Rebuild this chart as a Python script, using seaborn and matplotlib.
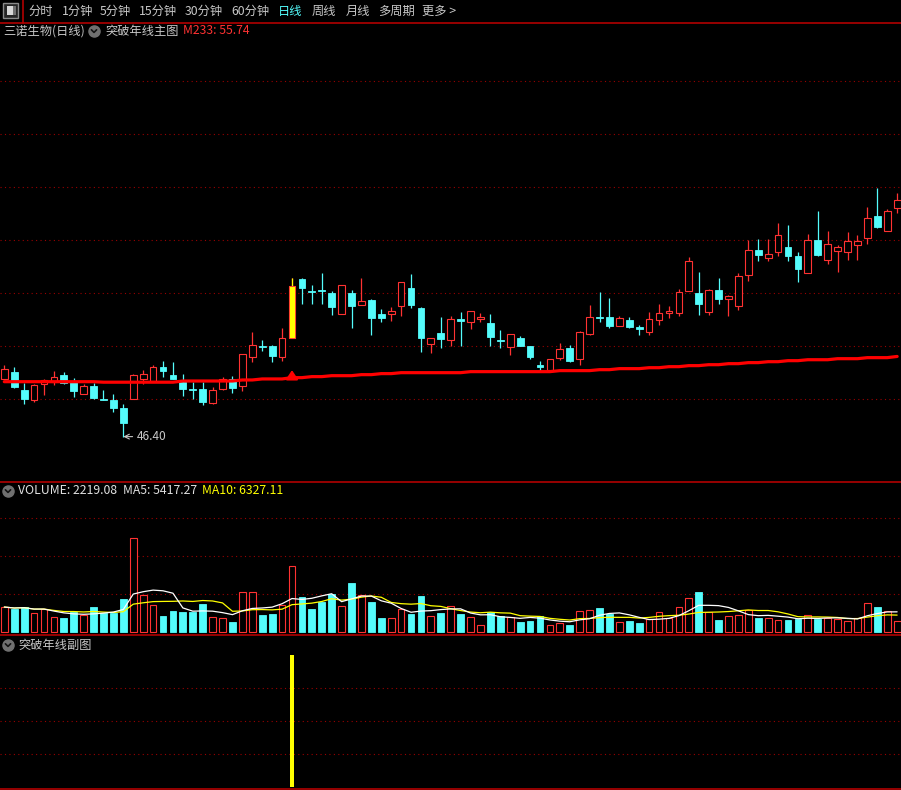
import numpy as np
import pandas as pd
import matplotlib
matplotlib.use("Agg")
import matplotlib.pyplot as plt
import seaborn as sns
from matplotlib.lines import Line2D
from matplotlib.patches import Rectangle

# 三诺生物 daily candles
opens = [53.15, 53.93, 51.84, 50.67, 52.50, 52.80, 53.58, 52.80, 51.40, 52.30,
         50.79, 50.67, 49.74, 50.75, 53.15, 52.92, 54.51, 53.55, 52.80, 51.92,
         51.92, 50.36, 51.99, 53.12, 52.34, 55.71, 56.96, 56.96, 55.71, 57.93,
         64.77, 63.37, 63.52, 63.14, 60.65, 63.14, 61.70, 62.32, 60.69, 60.65,
         61.59, 63.72, 61.39, 57.16, 58.48, 57.69, 60.07, 59.79, 60.07, 59.64,
         57.69, 56.88, 57.89, 56.93, 54.75, 54.20, 55.60, 56.73, 55.48, 58.39,
         60.37, 60.34, 59.26, 59.99, 59.14, 58.56, 60.03, 60.77, 60.86, 63.40,
         63.14, 60.96, 63.49, 62.40, 61.66, 65.27, 68.15, 67.25, 67.95, 68.49,
         67.45, 65.50, 69.31, 67.01, 68.06, 67.95, 68.76, 69.58, 72.11, 70.39,
         73.07]
closes = [54.28, 52.18, 50.79, 52.42, 52.97, 53.31, 52.69, 51.72, 52.30, 50.94,
          50.71, 49.77, 47.99, 53.55, 53.66, 54.51, 54.05, 53.12, 51.99, 51.80,
          50.47, 51.80, 53.12, 52.07, 55.99, 57.04, 56.88, 55.83, 57.86, 63.95,
          63.75, 63.25, 63.40, 61.54, 64.03, 61.66, 62.17, 60.26, 60.26, 61.00,
          64.38, 61.77, 57.93, 57.86, 57.81, 60.07, 59.91, 61.00, 60.31, 58.04,
          57.58, 58.32, 56.96, 55.68, 54.55, 55.45, 56.61, 55.21, 58.59, 60.31,
          60.22, 59.29, 60.19, 59.21, 58.98, 60.07, 60.77, 61.00, 63.22, 66.86,
          61.89, 63.49, 62.47, 62.79, 65.08, 68.15, 67.60, 67.68, 69.86, 67.48,
          65.97, 69.28, 67.56, 68.81, 68.46, 69.16, 69.19, 71.84, 70.86, 72.65,
          73.93]
highs = [54.75, 54.51, 52.65, 52.53, 53.08, 54.05, 53.93, 53.23, 52.50, 52.62,
         51.84, 51.37, 50.20, 53.66, 54.17, 54.71, 55.21, 55.10, 53.66, 52.77,
         52.77, 52.18, 53.35, 53.47, 55.99, 58.59, 57.66, 57.08, 59.06, 64.88,
         64.88, 64.07, 65.47, 63.33, 64.03, 63.49, 64.88, 62.38, 61.27, 61.50,
         64.42, 65.35, 61.50, 57.93, 60.34, 60.46, 60.92, 61.04, 60.77, 60.69,
         58.83, 58.36, 58.13, 56.96, 55.21, 55.50, 57.31, 57.08, 58.71, 61.74,
         63.25, 62.55, 60.42, 60.34, 59.37, 60.92, 61.85, 61.62, 63.57, 67.33,
         65.58, 63.60, 64.88, 62.87, 65.47, 69.28, 69.43, 69.43, 71.29, 71.06,
         67.91, 70.01, 72.69, 70.36, 68.73, 70.24, 69.89, 73.15, 75.37, 72.96,
         74.79]
lows = [53.12, 52.07, 50.20, 50.47, 51.25, 52.42, 52.50, 51.05, 51.40, 50.82,
        50.71, 49.31, 46.40, 50.75, 52.57, 52.92, 53.35, 53.06, 51.14, 50.82,
        50.12, 50.24, 51.80, 51.52, 51.75, 55.13, 56.38, 55.13, 55.25, 57.93,
        61.89, 61.89, 61.89, 60.61, 60.65, 59.09, 61.70, 58.28, 59.79, 59.91,
        60.49, 61.42, 56.30, 56.18, 56.76, 57.00, 56.96, 58.98, 59.79, 56.96,
        56.73, 55.95, 56.90, 55.45, 54.08, 54.20, 55.36, 55.10, 54.75, 58.28,
        59.76, 59.09, 59.26, 59.09, 58.28, 58.28, 59.44, 60.26, 60.49, 63.31,
        60.61, 60.61, 61.89, 60.49, 61.19, 64.57, 66.86, 66.86, 67.45, 66.86,
        64.45, 65.50, 67.45, 66.55, 65.62, 67.01, 67.01, 68.88, 70.74, 70.39,
        72.49]
volume = [6700, 6170, 6700, 5040, 6170, 4050, 3790, 5380, 4500, 6700,
          5040, 5220, 8820, 24900, 9800, 7160, 4320, 5640, 5380, 5490,
          7500, 3980, 3710, 2730, 10600, 10600, 4580, 4850, 7230, 17490,
          9350, 6170, 8030, 10070, 6970, 13060, 9880, 8030, 3790, 3790,
          6100, 4850, 9620, 4320, 5220, 6970, 4960, 4050, 1930, 5380,
          4320, 4050, 2840, 3100, 4430, 1930, 2460, 2040, 5640, 5910,
          6550, 4850, 2730, 3100, 2570, 3630, 5380, 3790, 6700, 9090,
          10790, 5380, 3370, 4320, 4580, 5830, 3900, 3790, 3260, 3370,
          3630, 4580, 3520, 3900, 3520, 2990, 3790, 7760, 6810, 5640,
          3100]
# 233-day moving average (年线)
m233 = [52.80, 52.80, 52.80, 52.80, 52.80, 52.80, 52.80, 52.80, 52.80, 52.80,
        52.74, 52.74, 52.74, 52.74, 52.74, 52.74, 52.74, 52.74, 52.88, 52.88,
        52.88, 52.88, 52.88, 52.88, 53.00, 53.00, 53.12, 53.12, 53.12, 53.27,
        53.27, 53.39, 53.39, 53.50, 53.50, 53.50, 53.62, 53.62, 53.74, 53.74,
        53.85, 53.85, 53.85, 53.85, 53.85, 53.85, 53.85, 53.97, 53.97, 53.97,
        53.97, 53.97, 53.97, 53.97, 53.97, 53.97, 54.09, 54.09, 54.09, 54.09,
        54.20, 54.20, 54.32, 54.32, 54.32, 54.43, 54.43, 54.55, 54.55, 54.67,
        54.67, 54.78, 54.78, 54.90, 54.90, 55.02, 55.02, 55.13, 55.13, 55.25,
        55.25, 55.36, 55.36, 55.36, 55.48, 55.48, 55.48, 55.60, 55.60, 55.60,
        55.74]
breakout_days = [29]   # 突破年线 signal

period_tabs = ["分时", "1分钟", "5分钟", "15分钟", "30分钟", "60分钟", "日线", "周线", "月线", "多周期", "更多 >"]

UP = "#ff3232"
DOWN = "#54fcfc"
GRID = "#9a0000"
SEP = "#c00000"
TXT = "#c8c8c8"

sns.set_theme(style="dark")
plt.rcParams["font.family"] = ["Noto Sans CJK SC", "DejaVu Sans"]

o = np.array(opens); c = np.array(closes)
hi = np.array(highs); lo = np.array(lows)
vol = np.array(volume, dtype=float)
n = len(o)
x = np.arange(n)
up = c >= o
sig = np.zeros(n)
sig[breakout_days] = 1

W, H = 901, 790
def fx(px): return px / W
def fy(py): return 1 - py / H

fig = plt.figure(figsize=(W / 100, H / 100), dpi=100, facecolor="black")
ax_k = fig.add_axes([0, fy(481), 1, (481 - 38) / H])
ax_v = fig.add_axes([0, fy(634), 1, (634 - 482) / H])
ax_s = fig.add_axes([0, fy(789), 1, (789 - 635) / H])
for ax in (ax_k, ax_v, ax_s):
    ax.set_facecolor("black")
    ax.set_xlim(-0.433, 90.39)
    ax.set_axis_off()

ax_k.set_ylim(41.23, 92.84)
ax_v.set_ylim(-450, 39830)
ax_s.set_ylim(-0.0175, 1.152)

dots = (0, (1, 3))
for g in 50.75 + 6.175 * np.arange(7):
    ax_k.axhline(g, color=GRID, lw=0.8, ls=dots, zorder=0)
for g in 10070 * np.arange(1, 4):
    ax_v.axhline(g, color=GRID, lw=0.8, ls=dots, zorder=0)
for g in (0.25, 0.5, 0.75):
    ax_s.axhline(g, color=GRID, lw=0.8, ls=dots, zorder=0)

# candles
bw = 0.68
body_lo = np.minimum(o, c)
body_hi = np.maximum(o, c)
body_h = np.maximum(body_hi - body_lo, 0.06)
dn = ~up
ax_k.vlines(x[dn], lo[dn], hi[dn], color=DOWN, lw=0.9, zorder=2)
ax_k.bar(x[dn], body_h[dn], bottom=body_lo[dn], width=bw, color=DOWN,
         edgecolor=DOWN, linewidth=0.6, zorder=3)
ax_k.vlines(x[up], body_hi[up], hi[up], color=UP, lw=0.9, zorder=2)
ax_k.vlines(x[up], lo[up], body_lo[up], color=UP, lw=0.9, zorder=2)
ax_k.bar(x[up], body_h[up], bottom=body_lo[up], width=bw, facecolor="black",
         edgecolor=UP, linewidth=0.8, zorder=3)
s = sig > 0
ax_k.vlines(x[s], body_hi[s], hi[s], color="#ffff00", lw=0.9, zorder=4)
ax_k.bar(x[s], body_h[s], bottom=body_lo[s], width=bw, color="#ffff00",
         edgecolor=UP, linewidth=0.6, zorder=5)

# 年线
sns.lineplot(x=x, y=m233, ax=ax_k, color="#ff0000", linewidth=2.3, legend=False, zorder=6)
for d in breakout_days:
    ax_k.annotate("", xy=(d, m233[d] + 1.2), xytext=(d, m233[d]),
                  arrowprops=dict(arrowstyle="-|>,head_width=0.3,head_length=0.45",
                                  color="#ff0000", lw=1.5), zorder=7)

imin = int(np.argmin(lo))
ax_k.annotate(f"{lo[imin]:.2f}", xy=(imin, lo[imin]), xytext=(10, 0),
              textcoords="offset points", va="center", ha="left", color=TXT, fontsize=8.6,
              arrowprops=dict(arrowstyle="->", color=TXT, lw=0.8, shrinkA=1, shrinkB=0))

# volume
ax_v.bar(x[dn], vol[dn], width=bw, color=DOWN, edgecolor=DOWN, linewidth=0.6, zorder=3)
ax_v.bar(x[up], vol[up], width=bw, facecolor="black", edgecolor=UP, linewidth=0.8, zorder=3)
vs = pd.Series(vol)
ma5 = vs.rolling(5, min_periods=1).mean()
ma10 = vs.rolling(10, min_periods=1).mean()
sns.lineplot(x=x, y=ma10.values, ax=ax_v, color="#ffff00", linewidth=0.9, legend=False, zorder=4)
sns.lineplot(x=x, y=ma5.values, ax=ax_v, color="white", linewidth=0.9, legend=False, zorder=5)

# signal panel (only the breakout days carry a bar)
ax_s.bar(x[s], sig[s], width=0.5, color="#ffff00", linewidth=0, zorder=3)

# separators and header
for yy in (22.7, 481.5, 634.5, 788.6):
    fig.add_artist(Line2D([0, 1], [fy(yy), fy(yy)], transform=fig.transFigure, color=SEP, lw=1.1))
fig.add_artist(Line2D([fx(23), fx(23)], [fy(0), fy(22.7)], transform=fig.transFigure, color=SEP, lw=1.1))
fig.add_artist(Rectangle((fx(3), fy(18)), 15 / W, 15 / H, transform=fig.transFigure,
                         facecolor="#262626", edgecolor="#8a8a8a", lw=1))
fig.add_artist(Rectangle((fx(7), fy(15)), 6 / W, 9 / H, transform=fig.transFigure,
                         facecolor="#d8d8d8", edgecolor="none"))
fig.add_artist(Rectangle((fx(13), fy(15)), 3 / W, 9 / H, transform=fig.transFigure,
                         facecolor="#707070", edgecolor="none"))

tab_x = [28, 62, 100, 139, 185, 231, 278, 312, 346, 378, 422]
for label, tx in zip(period_tabs, tab_x):
    fig.text(fx(tx), fy(11), label, color=DOWN if label == "日线" else TXT,
             fontsize=8.8, va="center", ha="left")

def chevron_icon(cx, cy):
    fig.add_artist(Line2D([fx(cx)], [fy(cy)], marker="o", markersize=8, color="#707070",
                          transform=fig.transFigure))
    fig.add_artist(Line2D([fx(cx - 2.6), fx(cx), fx(cx + 2.6)], [fy(cy - 1.2), fy(cy + 1.4), fy(cy - 1.2)],
                          color="#141414", lw=1.2, transform=fig.transFigure))

fig.text(fx(3), fy(31), "三诺生物(日线)", color=TXT, fontsize=8.8, va="center", ha="left")
chevron_icon(94, 31)
fig.text(fx(105), fy(31), "突破年线主图", color=TXT, fontsize=8.8, va="center", ha="left")
fig.text(fx(183), fy(31), "M233: 55.74", color=UP, fontsize=8.8, va="center", ha="left")

chevron_icon(8, 491)
fig.text(fx(18), fy(491), "VOLUME: 2219.08", color="#e0e0e0", fontsize=8.8, va="center", ha="left")
fig.text(fx(123), fy(491), "MA5: 5417.27", color="#e0e0e0", fontsize=8.8, va="center", ha="left")
fig.text(fx(202), fy(491), "MA10: 6327.11", color="#ffff00", fontsize=8.8, va="center", ha="left")

chevron_icon(8, 645)
fig.text(fx(18), fy(645), "突破年线副图", color=TXT, fontsize=8.8, va="center", ha="left")

fig.savefig("out.png", dpi=100, facecolor="black")
